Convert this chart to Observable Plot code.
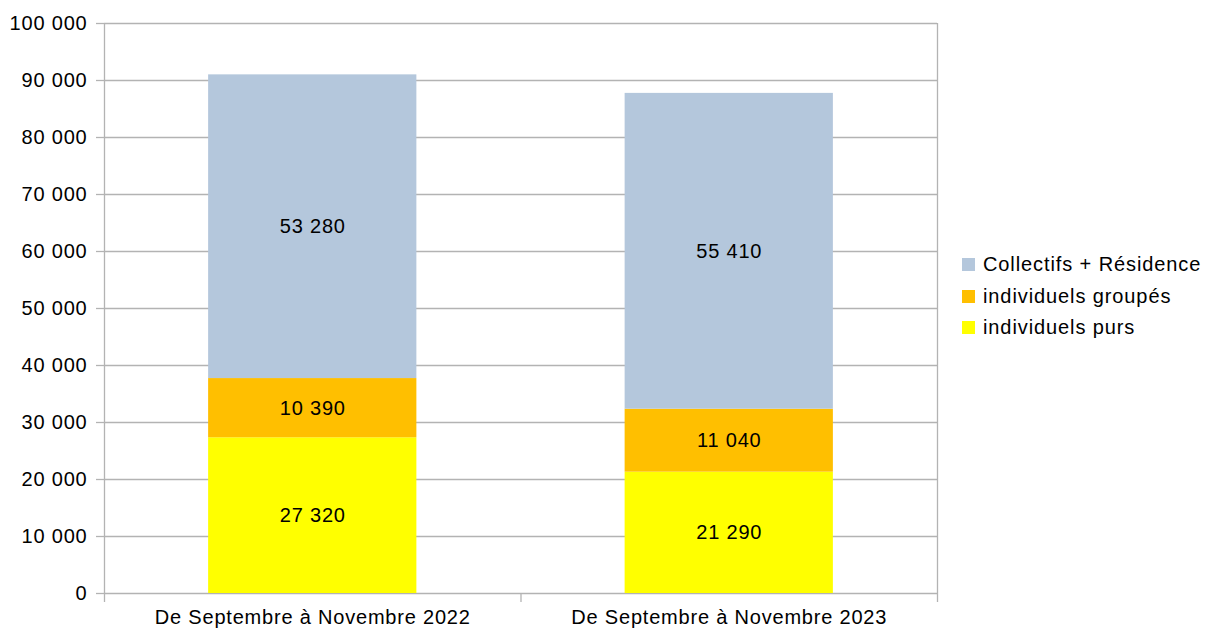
<!DOCTYPE html>
<html>
<head>
<meta charset="utf-8">
<script src="https://cdn.jsdelivr.net/npm/d3@7"></script>
<script src="https://cdn.jsdelivr.net/npm/@observablehq/plot@0.6"></script>
<style>
  body { margin: 0; background: #fff; font-family: "Liberation Sans", Arial, sans-serif; }
  #wrap { position: relative; width: 1205px; height: 631px; }
  #legend { position: absolute; left: 962px; top: 249px; font-size: 20px; letter-spacing: 0.9px; color: #000; }
  .item { display: flex; align-items: center; height: 31.5px; white-space: nowrap; }
  .sw { width: 13px; height: 13px; margin-right: 8px; flex: none; }
</style>
</head>
<body>
<div id="wrap"></div>
<script>
// ---- data ----
const periods = ["De Septembre à Novembre 2022", "De Septembre à Novembre 2023"];
const seriesNames = ["Collectifs + Résidence", "individuels groupés", "individuels purs"]; // legend order
const seriesColors = ["#b4c7dc", "#ffbf00", "#ffff00"];
const individuelsPurs = [27320, 21290];
const individuelsGroupes = [10390, 11040];
const collectifsResidence = [53280, 55410];
const yTicks = [0, 10000, 20000, 30000, 40000, 50000, 60000, 70000, 80000, 90000, 100000];

// ---- build stacked rows ----
const stackOrder = [
  ["individuels purs", individuelsPurs],
  ["individuels groupés", individuelsGroupes],
  ["Collectifs + Résidence", collectifsResidence]
];
const rows = [];
periods.forEach((p, i) => {
  let acc = 0;
  stackOrder.forEach(([name, vals]) => {
    rows.push({ i, period: p, series: name, value: vals[i], y1: acc, y2: acc + vals[i] });
    acc += vals[i];
  });
});

const loc = d3.formatLocale({ decimal: ",", thousands: " ", grouping: [3], currency: ["", " €"] });
const fmt = loc.format(",d");
const n = periods.length;
const grid = "#b3b3b3";

const chart = Plot.plot({
  width: 1205,
  height: 631,
  marginLeft: 104,
  marginRight: 268,
  marginTop: 23,
  marginBottom: 38,
  style: { fontFamily: "'Liberation Sans', Arial, sans-serif", fontSize: "20px", letterSpacing: "0.8px", color: "#000", background: "#fff" },
  x: { domain: [0, n], axis: null },
  y: { domain: [0, 100000], axis: null },
  color: { domain: seriesNames, range: seriesColors },
  marks: [
    Plot.ruleY(yTicks, { stroke: grid, strokeWidth: 1.3 }),
    Plot.ruleX([0, n], { stroke: grid, strokeWidth: 1.3 }),
    Plot.rectY(rows, { x1: d => d.i + 0.25, x2: d => d.i + 0.75, y1: "y1", y2: "y2", fill: "series" }),
    Plot.text(rows, { x: d => d.i + 0.5, y: d => (d.y1 + d.y2) / 2, text: d => fmt(d.value), fill: "#000", fontSize: 20 }),
    Plot.axisY({ ticks: yTicks, tickFormat: fmt, tickSize: 8, tickPadding: 9, stroke: grid, strokeOpacity: 1, strokeWidth: 1.3, fill: "#000", fontSize: 20 }),
    Plot.axisX({ ticks: d3.range(n + 1), tickFormat: () => "", tickSize: 9, stroke: grid, strokeOpacity: 1, strokeWidth: 1.3 }),
    Plot.axisX({ ticks: periods.map((_, i) => i + 0.5), tickFormat: d => periods[Math.floor(d)], tickSize: 0, tickPadding: 16, fill: "#000", fontSize: 20 })
  ]
});

const wrap = document.getElementById("wrap");
wrap.appendChild(chart);

const legend = document.createElement("div");
legend.id = "legend";
seriesNames.forEach((name, k) => {
  const item = document.createElement("div");
  item.className = "item";
  const sw = document.createElement("span");
  sw.className = "sw";
  sw.style.background = seriesColors[k];
  const lab = document.createElement("span");
  lab.textContent = name;
  item.appendChild(sw);
  item.appendChild(lab);
  legend.appendChild(item);
});
wrap.appendChild(legend);
</script>
</body>
</html>
